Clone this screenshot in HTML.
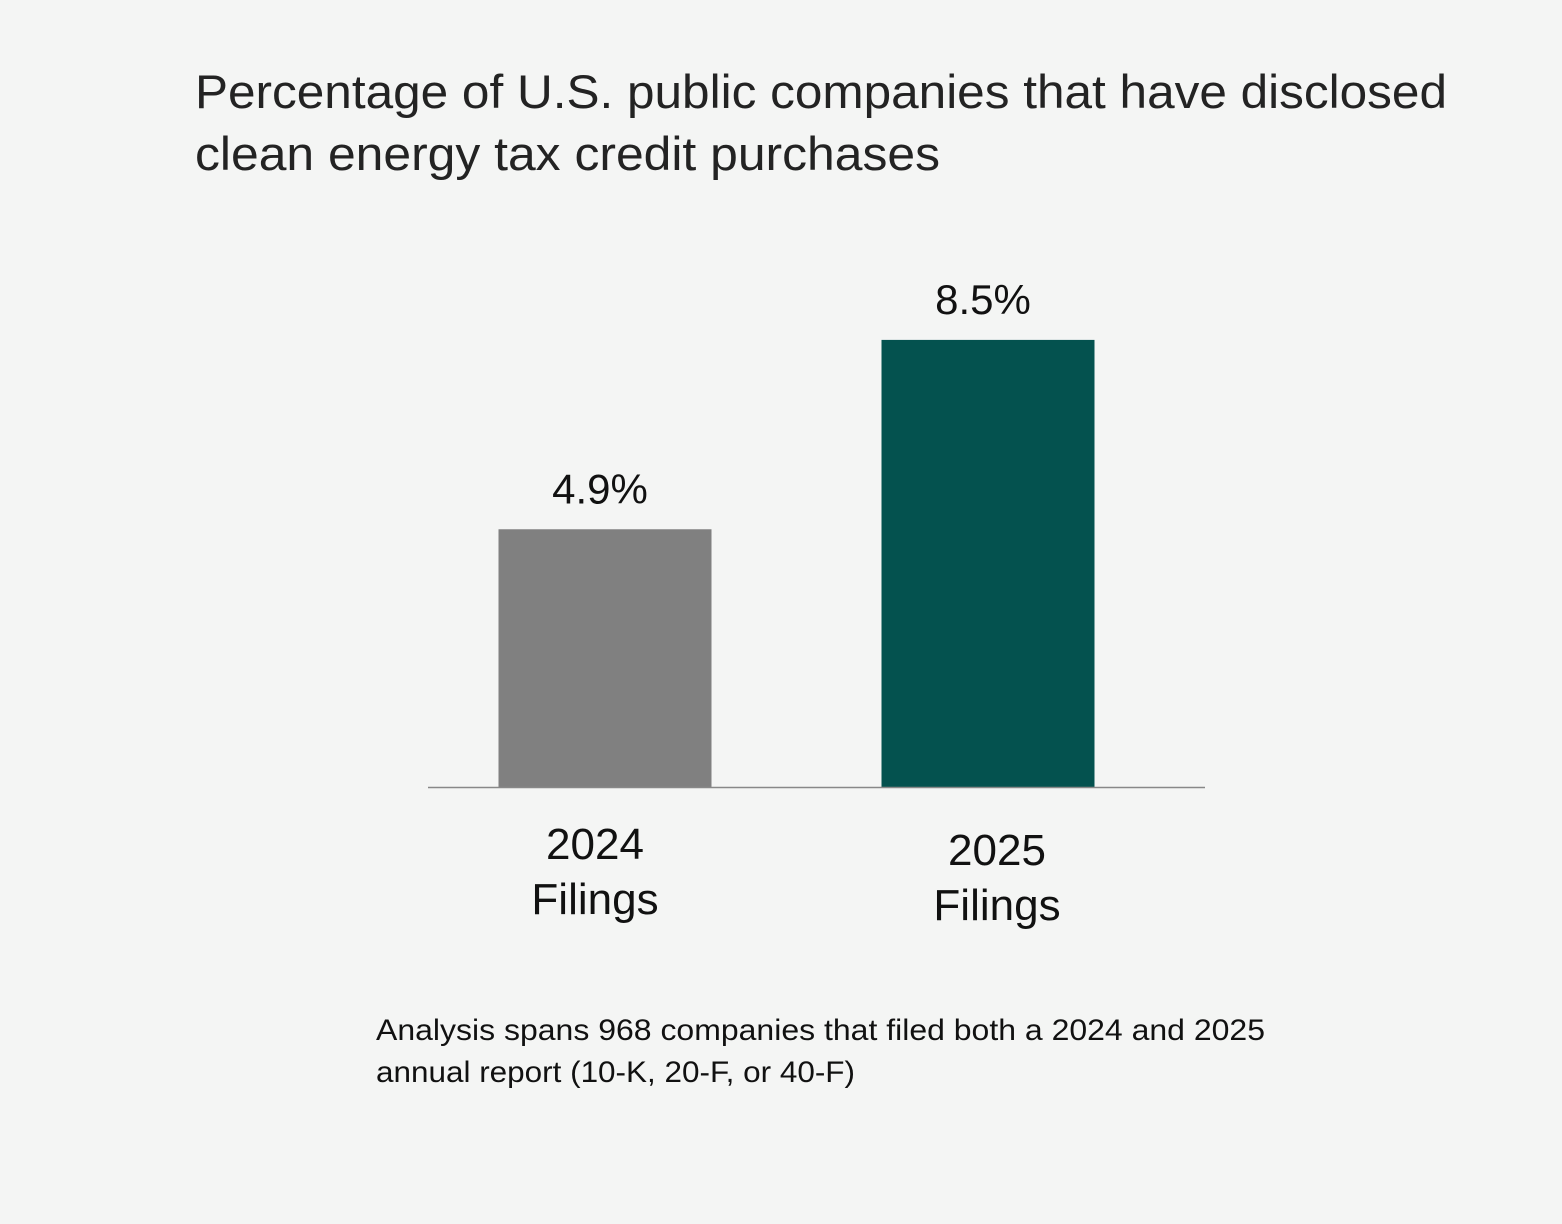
<!DOCTYPE html>
<html><head><meta charset="utf-8"><style>
html,body{margin:0;padding:0;background:#f4f5f4;}
svg{display:block;}
text{font-family:"Liberation Sans",sans-serif;}
</style></head><body>
<svg id="chart" width="1562" height="1224" viewBox="0 0 1562 1224">
<rect width="1562" height="1224" fill="#f4f5f4"/>
<g fill="#232323" font-size="47">
<text x="195" y="108" textLength="1252" lengthAdjust="spacingAndGlyphs">Percentage of U.S. public companies that have disclosed</text>
<text x="195" y="170" textLength="745" lengthAdjust="spacingAndGlyphs">clean energy tax credit purchases</text>
</g>
<g id="bars"></g>
<line x1="428" y1="787.5" x2="1205" y2="787.5" stroke="#888" stroke-width="1.5"/>
<g fill="#111" font-size="30">
<text x="376" y="1040" textLength="889" lengthAdjust="spacingAndGlyphs">Analysis spans 968 companies that filed both a 2024 and 2025</text>
<text x="376" y="1082" textLength="479" lengthAdjust="spacingAndGlyphs">annual report (10-K, 20-F, or 40-F)</text>
</g>
</svg>
<script>
const categories = ["2024", "2025"];
const values = [4.9, 8.5];
const valueLabels = ["4.9%", "8.5%"];
const colors = ["#808080", "#04524f"];
const baseY = 787, pxPer = 52.6;
const centers = [605, 988];
const barW = 213;
function y(v){ return baseY - v * pxPer; }
const g = document.getElementById('bars');
const NS = "http://www.w3.org/2000/svg";
categories.forEach((c, i) => {
  const r = document.createElementNS(NS, 'rect');
  
  
  r.setAttribute('x', centers[i] - barW / 2);
  r.setAttribute('y', y(values[i]));
  r.setAttribute('width', barW);
  r.setAttribute('height', baseY - y(values[i]));
  r.setAttribute('fill', colors[i]);
  g.appendChild(r);
  const t = document.createElementNS(NS, 'text');
  
  
  t.setAttribute('x', centers[i] - 5);
  t.setAttribute('y', y(values[i]) - 26);
  t.setAttribute('text-anchor', 'middle');
  t.setAttribute('font-size', '42');
  t.setAttribute('fill', '#111');
  t.textContent = valueLabels[i];
  g.appendChild(t);
  const off = i === 0 ? -10 : 9;
  const dy = i === 0 ? 0 : 6;
  const l1 = document.createElementNS(NS, 'text');
  
  
  l1.setAttribute('x', centers[i] + off);
  l1.setAttribute('y', 859 + dy);
  l1.setAttribute('text-anchor', 'middle');
  l1.setAttribute('font-size', '44');
  l1.setAttribute('fill', '#111');
  l1.textContent = c;
  g.appendChild(l1);
  const l2 = document.createElementNS(NS, 'text');
  
  
  l2.setAttribute('x', centers[i] + off);
  l2.setAttribute('y', 914 + dy);
  l2.setAttribute('text-anchor', 'middle');
  l2.setAttribute('font-size', '44');
  l2.setAttribute('fill', '#111');
  l2.textContent = 'Filings';
  g.appendChild(l2);
});
</script>
</body></html>
